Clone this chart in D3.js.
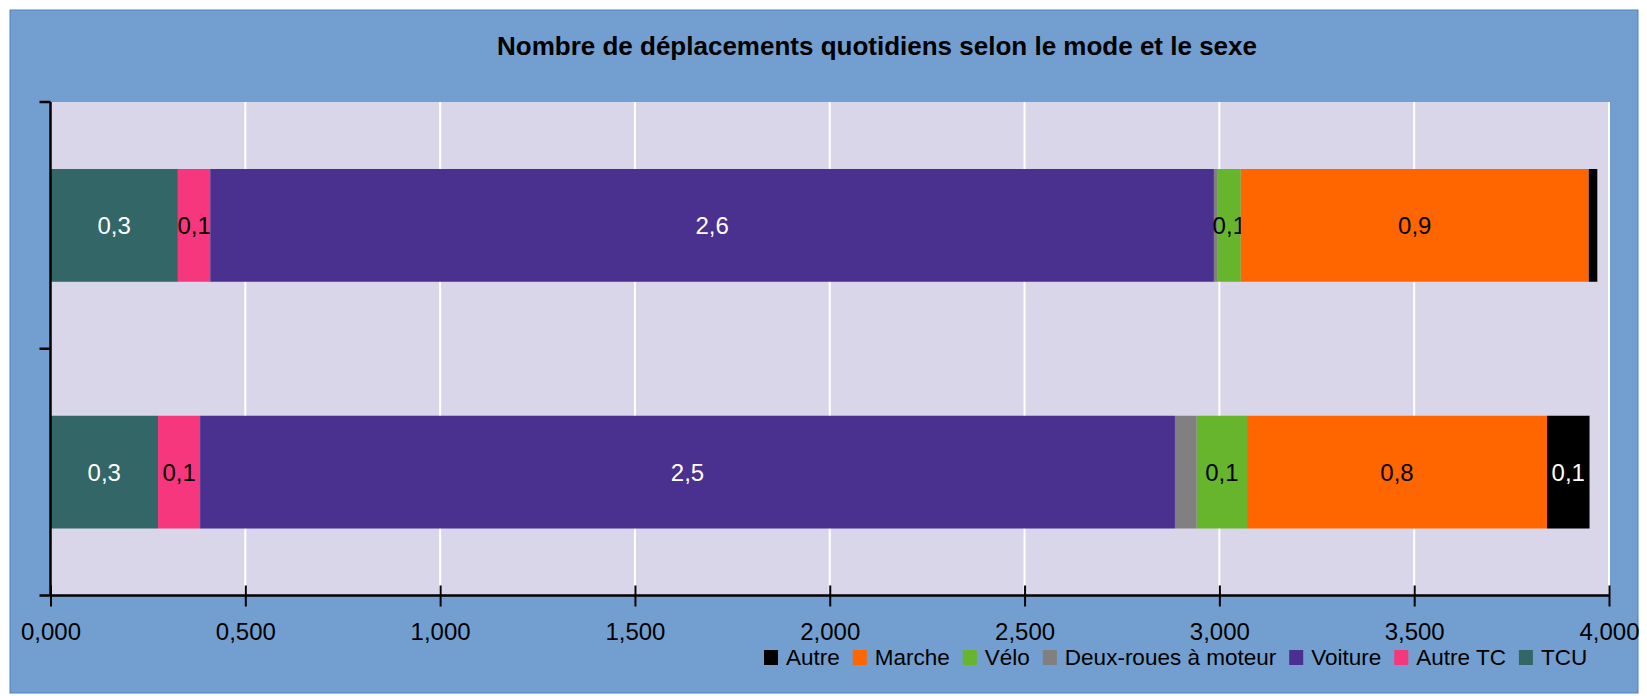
<!DOCTYPE html>
<html lang="fr">
<head>
    <meta charset="UTF-8">
    <title>Nombre de déplacements quotidiens selon le mode et le sexe</title>
    <script src="https://cdn.jsdelivr.net/npm/d3@7/dist/d3.min.js"></script>
    <style>
        body { margin: 0; background: #fff; }
        text { font-family: "Liberation Sans", Arial, sans-serif; }
    </style>
</head>
<body>
<script>
    // données
    var categories = ["Hommes", "Femmes"];
    var series = ["TCU", "Autre TC", "Voiture", "Deux-roues à moteur", "Vélo", "Marche", "Autre"];
    var hommes = [0.327, 0.083, 2.576, 0.010, 0.059, 0.893, 0.022];
    var femmes = [0.276, 0.108, 2.502, 0.056, 0.129, 0.770, 0.109];
    var xTicks = [0, 0.5, 1, 1.5, 2, 2.5, 3, 3.5, 4];

    var colors = ["#336666", "#f6377e", "#4a308f", "#808080", "#66b52d", "#ff6600", "#000000"];
    var labelColors = ["#fff", "#000", "#fff", "#000", "#000", "#000", "#fff"];

    var width = 1647, height = 696;
    var plot = {left: 50.5, right: 1609, top: 102, bottom: 595.5};

    var fr = d3.formatLocale({decimal: ",", thousands: " ", grouping: [3], currency: ["", " €"]});
    var fmtTick = fr.format(".3f");
    var fmtLabel = fr.format(".1f");

    // table pour d3.stack
    var values = [hommes, femmes];
    var table = categories.map(function(c, i){
        var row = {cat: c};
        series.forEach(function(s, j){ row[s] = values[i][j]; });
        return row;
    });
    var stacked = d3.stack().keys(series)(table);

    var svg = d3.select("body").append("svg")
            .attr("width", width).attr("height", height);

    // fond
    svg.append("rect")
            .attr("x", 10).attr("y", 10)
            .attr("width", 1628).attr("height", 683)
            .attr("fill", "#729fcf").attr("stroke", "#4f7fbf").attr("stroke-width", 1);

    svg.append("rect")
            .attr("x", plot.left).attr("y", plot.top)
            .attr("width", plot.right - plot.left).attr("height", plot.bottom - plot.top)
            .attr("fill", "#dad6ea");

    var x = d3.scaleLinear().domain([0, 4]).range([plot.left, plot.right]);
    var y = d3.scaleBand().domain(categories).range([plot.top, plot.bottom])
            .paddingInner(0.543).paddingOuter(0.2715);

    // grille
    svg.append("g").selectAll("line")
            .data(xTicks.slice(1))
            .enter().append("line")
            .attr("x1", function(d){ return x(d); }).attr("x2", function(d){ return x(d); })
            .attr("y1", plot.top).attr("y2", plot.bottom)
            .attr("stroke", "#fff").attr("stroke-width", 2);

    // barres
    var layer = svg.append("g").selectAll("g")
            .data(stacked)
            .enter().append("g")
            .attr("fill", function(d, i){ return colors[i]; });

    layer.selectAll("rect")
            .data(function(d){ return d; })
            .enter().append("rect")
            .attr("x", function(d){ return x(d[0]); })
            .attr("y", function(d){ return y(d.data.cat); })
            .attr("width", function(d){ return x(d[1]) - x(d[0]); })
            .attr("height", y.bandwidth());

    // étiquettes
    layer.selectAll("text")
            .data(function(d, i){
                return d.map(function(p){ return {p: p, i: i, key: d.key}; });
            })
            .enter().append("text")
            .filter(function(d){
                return d.key !== "Deux-roues à moteur" && fmtLabel(d.p[1] - d.p[0]) !== "0,0";
            })
            .attr("x", function(d){ return (x(d.p[0]) + x(d.p[1])) / 2; })
            .attr("y", function(d){ return y(d.p.data.cat) + y.bandwidth() / 2; })
            .attr("dy", "0.36em")
            .attr("text-anchor", "middle")
            .attr("font-size", "24px")
            .attr("fill", function(d){ return labelColors[d.i]; })
            .text(function(d){ return fmtLabel(d.p[1] - d.p[0]); });

    // axes
    var xAxis = d3.axisBottom(x).tickValues(xTicks).tickFormat(fmtTick).tickSize(11).tickPadding(16);
    var gx = svg.append("g")
            .attr("transform", "translate(0," + plot.bottom + ")")
            .call(xAxis);
    gx.select(".domain").attr("stroke", "#000").attr("stroke-width", 2.5).attr("d", "M" + plot.left + ",0H" + plot.right);
    gx.selectAll(".tick line").attr("y1", -10).attr("stroke", "#000").attr("stroke-width", 2);
    gx.selectAll(".tick text").attr("font-size", "24px").attr("fill", "#000").attr("font-family", null);

    var yTicks = [plot.top, (plot.top + plot.bottom) / 2, plot.bottom];
    var gy = svg.append("g");
    gy.append("line")
            .attr("x1", plot.left).attr("x2", plot.left)
            .attr("y1", plot.top).attr("y2", plot.bottom)
            .attr("stroke", "#000").attr("stroke-width", 2.5);
    gy.selectAll("line.t")
            .data(yTicks)
            .enter().append("line").attr("class", "t")
            .attr("x1", plot.left - 11).attr("x2", plot.left)
            .attr("y1", function(d){ return d; }).attr("y2", function(d){ return d; })
            .attr("stroke", "#000").attr("stroke-width", 2.5);

    // titre
    svg.append("text")
            .attr("x", 877).attr("y", 55)
            .attr("text-anchor", "middle")
            .attr("font-size", "26px").attr("font-weight", "bold")
            .text("Nombre de déplacements quotidiens selon le mode et le sexe");

    // légende (ordre inverse)
    var legend = svg.append("g").attr("transform", "translate(764,650)");
    var lx = 0;
    series.slice().reverse().forEach(function(s){
        var idx = series.indexOf(s);
        var g = legend.append("g").attr("transform", "translate(" + lx + ",0)");
        g.append("rect").attr("width", 14).attr("height", 15).attr("fill", colors[idx]);
        var t = g.append("text").attr("x", 22).attr("y", 15)
                .attr("font-size", "22.5px").text(s);
        lx += 22 + t.node().getComputedTextLength() + 13;
    });
</script>
</body>
</html>
